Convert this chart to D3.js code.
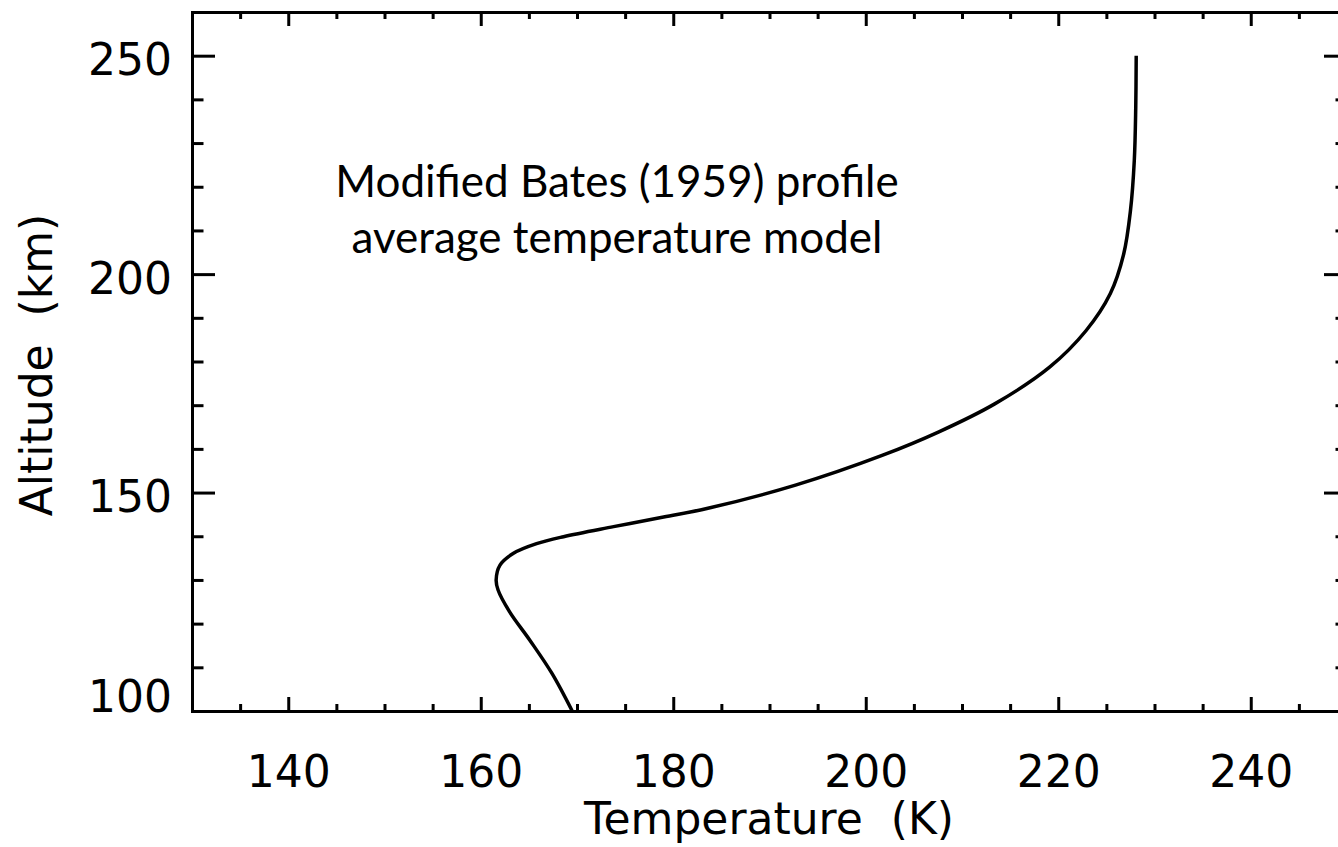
<!DOCTYPE html>
<html>
<head>
<meta charset="utf-8">
<script src="https://cdn.jsdelivr.net/npm/d3@7"></script>
<style>
  body { margin: 0; background: #fff; }
  svg { display: block; }
</style>
</head>
<body>
<div id="chart"></div>
<script>
// profile: altitude (km) and temperature (K)
var altitude = [100, 108.6, 116.2, 122.7, 127.7, 130, 133.4, 136.1, 138.3, 139.9, 142.2, 144.4, 146.4,
  151.7, 158.5, 163.9, 170.3, 178.7, 187.1, 195.5, 204.6, 214.5, 226, 238, 250];
var temperature = [169.5, 167.4, 165.1, 163.0, 161.8, 161.6, 162.0, 163.4, 165.8, 168.6, 173.8, 179.0, 183.6,
  192.7, 201.7, 207.6, 213.4, 219.1, 222.9, 225.4, 226.8, 227.5, 227.9, 228.05, 228.1];

var xTicks = [140, 160, 180, 200, 220, 240];
var yTicks = [100, 150, 200, 250];
var noteLines = ["Modified Bates (1959) profile", "average temperature model"];

var width = 1338, height = 847;
var plotLeft = 192, plotRight = 1347, plotTop = 12, plotBottom = 711;
var font = "'DejaVu Sans', sans-serif";

var svg = d3.select("#chart").append("svg").attr("width", width).attr("height", height);

var x = d3.scaleLinear().domain([130, 250]).range([plotLeft, plotRight]);
var y = d3.scaleLinear().domain([100, 260]).range([plotBottom, plotTop]);

var xMinor = d3.range(130, 251, 5).filter(function(d) { return d % 20 !== 0; });
var yMinor = d3.range(100, 261, 10).filter(function(d) { return d % 50 !== 0; });

// bottom axis
svg.append("g").attr("transform", "translate(0," + plotBottom + ")")
  .call(d3.axisBottom(x).tickValues(xMinor).tickSize(-7).tickSizeOuter(0).tickFormat(""));
var gx = svg.append("g").attr("transform", "translate(0," + plotBottom + ")");
gx.call(d3.axisBottom(x).tickValues(xTicks).tickSize(-14).tickSizeOuter(0).tickPadding(45).tickFormat(d3.format("d")));

// top axis
svg.append("g").attr("transform", "translate(0," + plotTop + ")")
  .call(d3.axisTop(x).tickValues(xTicks).tickSize(-14).tickSizeOuter(0).tickFormat(""));
svg.append("g").attr("transform", "translate(0," + plotTop + ")")
  .call(d3.axisTop(x).tickValues(xMinor).tickSize(-7).tickSizeOuter(0).tickFormat(""));

// left axis
svg.append("g").attr("transform", "translate(" + plotLeft + ",0)")
  .call(d3.axisLeft(y).tickValues(yMinor).tickSize(-11.5).tickSizeOuter(0).tickFormat(""));
var gy = svg.append("g").attr("transform", "translate(" + plotLeft + ",0)");
gy.call(d3.axisLeft(y).tickValues(yTicks).tickSize(-23).tickSizeOuter(0).tickPadding(20).tickFormat(d3.format("d")));

// right axis
svg.append("g").attr("transform", "translate(" + plotRight + ",0)")
  .call(d3.axisRight(y).tickValues(yTicks).tickSize(-23).tickSizeOuter(0).tickFormat(""));
svg.append("g").attr("transform", "translate(" + plotRight + ",0)")
  .call(d3.axisRight(y).tickValues(yMinor).tickSize(-11.5).tickSizeOuter(0).tickFormat(""));

svg.selectAll(".domain").attr("stroke", "#000").attr("stroke-width", 3).attr("stroke-linecap", "square");
svg.selectAll(".tick line").attr("stroke", "#000").attr("stroke-width", 3);
svg.selectAll(".tick text").attr("font-family", font).attr("font-size", 44).attr("fill", "#000");
gy.selectAll(".tick text").attr("dy", function(d) { return d === 100 ? "0.02em" : "0.43em"; });

// axis titles
svg.append("text")
  .attr("x", 769).attr("y", 834)
  .attr("text-anchor", "middle")
  .attr("font-family", font).attr("font-size", 44)
  .style("white-space", "pre")
  .text("Temperature  (K)");

svg.append("text")
  .attr("transform", "translate(52,365) rotate(-90)")
  .attr("text-anchor", "middle")
  .attr("font-family", font).attr("font-size", 44)
  .style("white-space", "pre")
  .text("Altitude  (km)");

// annotation
svg.selectAll(".note")
  .data(noteLines)
  .enter()
  .append("text")
  .attr("class", "note")
  .attr("x", 617)
  .attr("y", function(d, i) { return 197 + i * 56; })
  .attr("text-anchor", "middle")
  .attr("font-family", "Lato, 'Open Sans', sans-serif")
  .attr("font-size", 44)
  .text(function(d) { return d; });

// temperature profile
var line = d3.line()
  .x(function(d, i) { return x(temperature[i]); })
  .y(function(d) { return y(d); })
  .curve(d3.curveCatmullRom.alpha(0.5));

svg.append("path")
  .datum(altitude)
  .attr("d", line)
  .attr("fill", "none")
  .attr("stroke", "#000")
  .attr("stroke-width", 3.5);
</script>
</body>
</html>
